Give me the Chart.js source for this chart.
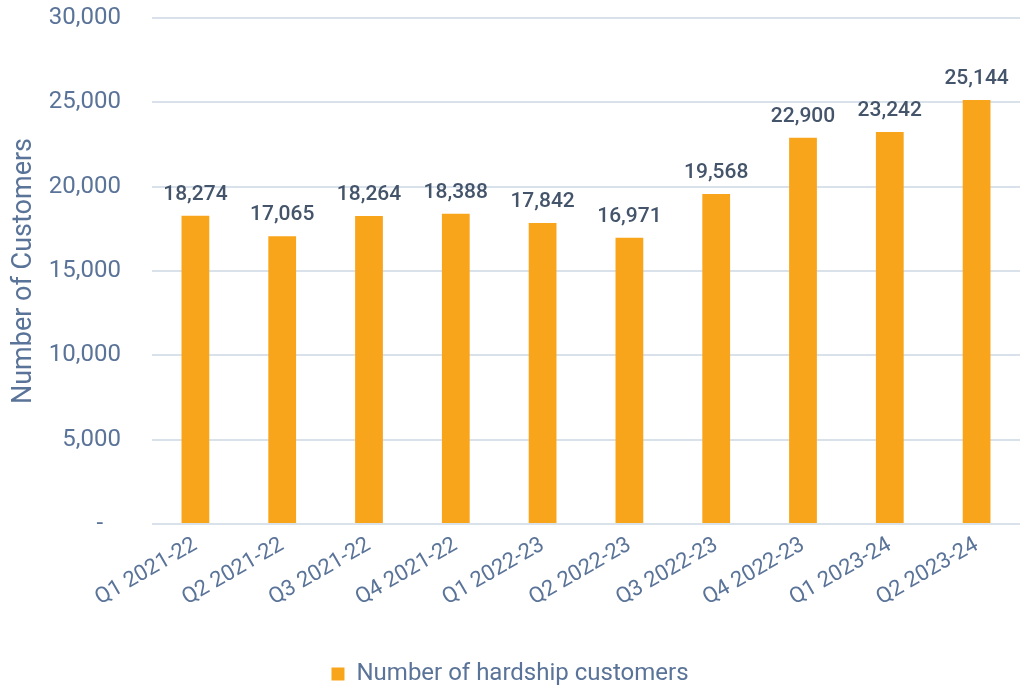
<!DOCTYPE html>
<html>
<head>
<meta charset="utf-8">
<script src="https://cdn.jsdelivr.net/npm/chart.js@4/dist/chart.umd.min.js"></script>
<style>
html,body{margin:0;padding:0;background:#fff;}
#wrap{width:1020px;height:687px;}
</style>
</head>
<body>
<div id="wrap"><canvas id="c" width="1020" height="687"></canvas></div>
<script>
const categories = ["Q1 2021-22","Q2 2021-22","Q3 2021-22","Q4 2021-22","Q1 2022-23","Q2 2022-23","Q3 2022-23","Q4 2022-23","Q1 2023-24","Q2 2023-24"];
const hardshipCustomers = [18274,17065,18264,18388,17842,16971,19568,22900,23242,25144];
const seriesName = "Number of hardship customers";
const yTitle = "Number of Customers";

const FONT = "Roboto, 'DejaVu Sans', sans-serif";
const tickColor = "#5a7398";
const labelColor = "#44546a";
const barColor = "#f9a51c";

const valueLabels = {
  id: 'valueLabels',
  afterDatasetsDraw(chart) {
    const ctx = chart.ctx;
    ctx.save();
    ctx.font = "500 21px " + FONT;
    ctx.fillStyle = labelColor;
    ctx.textAlign = 'center';
    ctx.textBaseline = 'alphabetic';
    const meta = chart.getDatasetMeta(0);
    meta.data.forEach((bar, i) => {
      const v = chart.data.datasets[0].data[i];
      ctx.fillText(v.toLocaleString('en-US'), bar.x, bar.y - 16);
    });
    ctx.restore();
  }
};

const legendShift = {
  id: 'legendShift',
  afterLayout(chart) {
    if (chart.legend) {
      chart.legend.top += 9;
      chart.legend.bottom += 9;
    }
  }
};

new Chart(document.getElementById('c'), {
  type: 'bar',
  data: {
    labels: categories,
    datasets: [{
      label: seriesName,
      data: hardshipCustomers,
      backgroundColor: barColor,
      borderWidth: 0,
      barPercentage: 0.32,
      categoryPercentage: 1.0
    }]
  },
  options: {
    responsive: false,
    animation: false,
    layout: { padding: { top: 18, right: 0, bottom: 0, left: 0 } },
    plugins: {
      legend: {
        position: 'bottom',
        labels: {
          color: tickColor,
          font: { family: FONT, size: 24 },
          boxWidth: 13, boxHeight: 13,
          padding: 2,
          useBorderRadius: false
        }
      },
      tooltip: { enabled: false }
    },
    scales: {
      x: {
        grid: { display: false },
        border: { display: false },
        ticks: {
          color: tickColor,
          font: { family: FONT, size: 22 },
          minRotation: 30, maxRotation: 30,
          padding: 0
        },
        afterFit(s) { s.height = 127; }
      },
      y: {
        min: 0, max: 30000,
        grid: { color: '#d9e1ea', lineWidth: 2, drawTicks: false },
        border: { display: false },
        ticks: {
          stepSize: 5000,
          color: tickColor,
          font: { family: FONT, size: 24 },
          padding: 31,
          callback: (v) => v === 0 ? '-   ' : v.toLocaleString('en-US')
        },
        title: {
          display: true,
          text: yTitle,
          color: tickColor,
          font: { family: FONT, size: 27 },
          padding: { top: 8, bottom: 4 }
        },
        afterFit(s) { s.width = 152; s.paddingTop = 0; s.paddingBottom = 0; }
      }
    }
  },
  plugins: [valueLabels, legendShift]
});
</script>
</body>
</html>
